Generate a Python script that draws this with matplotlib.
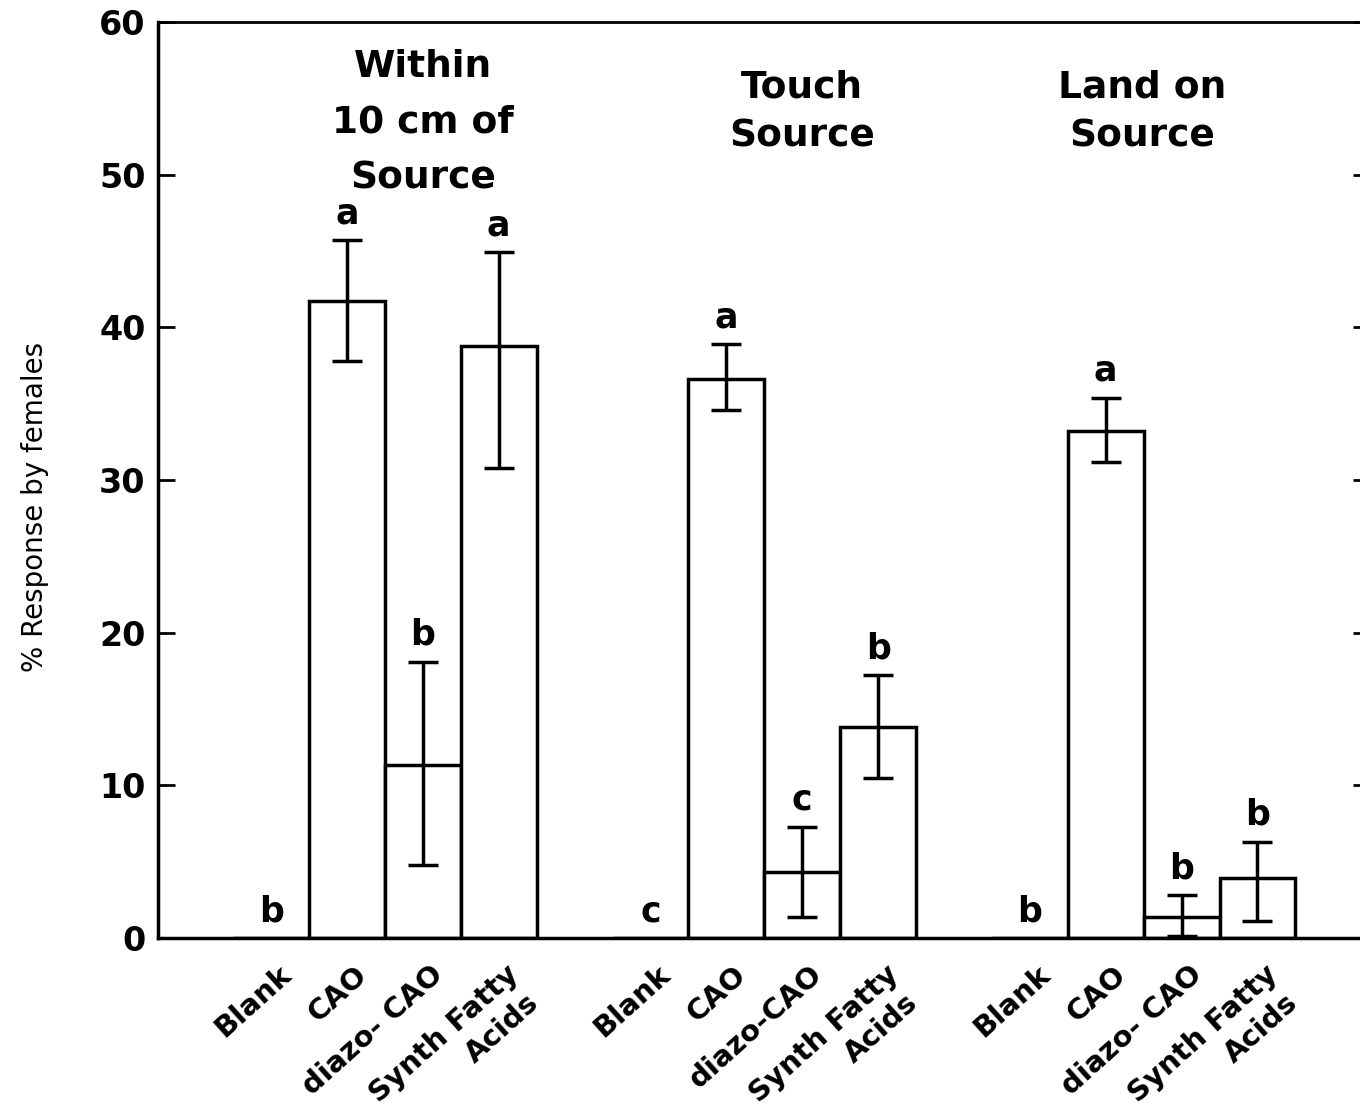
import matplotlib
matplotlib.use('Agg')
import matplotlib.pyplot as plt
import matplotlib.transforms as mtransforms
import numpy as np

# Data
groups = ['Within\n10 cm of\nSource', 'Touch\nSource', 'Land on\nSource']
treatments = ['Blank', 'CAO', 'diazo-CAO', 'Synth Fatty Acids']
# the last label of each group is written over two lines: "Synth Fatty" / "Acids"
tick_labels = ['Blank', 'CAO', 'diazo- CAO', 'Synth Fatty',
               'Blank', 'CAO', 'diazo-CAO', 'Synth Fatty',
               'Blank', 'CAO', 'diazo- CAO', 'Synth Fatty']
second_line = 'Acids'

within_mean = [0, 41.7, 11.3, 38.8]
within_upper = [0, 45.7, 18.1, 44.9]
within_lower = [0, 37.8, 4.8, 30.8]
within_letters = ['b', 'a', 'b', 'a']

touch_mean = [0, 36.6, 4.3, 13.8]
touch_upper = [0, 38.9, 7.3, 17.2]
touch_lower = [0, 34.6, 1.4, 10.5]
touch_letters = ['c', 'a', 'c', 'b']

land_mean = [0, 33.2, 1.4, 3.9]
land_upper = [0, 35.4, 2.8, 6.3]
land_lower = [0, 31.2, 0.1, 1.1]
land_letters = ['b', 'a', 'b', 'b']

yticks = [0, 10, 20, 30, 40, 50, 60]

means = np.array(within_mean + touch_mean + land_mean)
upper = np.array(within_upper + touch_upper + land_upper)
lower = np.array(within_lower + touch_lower + land_lower)
letters = within_letters + touch_letters + land_letters

# bar positions: 4 bars per group, one empty slot between groups
pos = np.array([g * 5 + i for g in range(len(groups)) for i in range(len(treatments))])

fig = plt.figure(figsize=(13.6, 11.1), dpi=100)
ax = fig.add_axes([0.1162, 0.155, 0.891, 0.8252])

LW = 2.5
ax.bar(pos, means, width=1.0, facecolor='white', edgecolor='black', linewidth=LW, zorder=2)

has_err = means > 0
ax.errorbar(pos[has_err], means[has_err],
            yerr=[means[has_err] - lower[has_err], upper[has_err] - means[has_err]],
            fmt='none', ecolor='black', elinewidth=LW, capsize=11, capthick=LW, zorder=3)

# significance letters
for x, m, u, s in zip(pos, means, upper, letters):
    y = u + 1.1 if m > 0 else 1.05
    ax.text(x, y, s, ha='center', va='baseline', fontsize=25, fontweight='bold')

# group titles
title_x = [2.0, 7.0, 11.48]
title_y = [53.4, 54.1, 54.1]
title_ls = [1.7, 1.45, 1.45]
for gx, gy, ls, t in zip(title_x, title_y, title_ls, groups):
    ax.text(gx, gy, t, ha='center', va='center', fontsize=27, fontweight='bold',
            linespacing=ls, multialignment='center')

ax.set_xlim(-1.49, 14.48)
ax.set_ylim(0, 60)
ax.set_yticks(yticks)
ax.set_yticklabels([str(v) for v in yticks], fontsize=24, fontweight='bold')
ax.tick_params(axis='y', direction='in', length=12, width=2, right=True, pad=9)

ax.set_xticks(pos)
ax.set_xticklabels(tick_labels, fontsize=21, fontweight='bold', rotation=42,
                   ha='right', va='top', rotation_mode='anchor')
ax.tick_params(axis='x', length=0, pad=16)
offset = mtransforms.ScaledTranslation(7 / 100, 0, fig.dpi_scale_trans)
for lab in ax.get_xticklabels():
    lab.set_transform(lab.get_transform() + offset)

# second line ("Acids") under each "Synth Fatty" label
acids_off = mtransforms.ScaledTranslation(27 / 100, -51 / 100, fig.dpi_scale_trans)
for x in pos[3::4]:
    ax.text(x, 0, second_line, transform=ax.get_xaxis_transform() + acids_off,
            fontsize=21, fontweight='bold', rotation=42, ha='right', va='top',
            rotation_mode='anchor')

for side in ['left', 'bottom', 'right']:
    ax.spines[side].set_linewidth(LW)
ax.spines['top'].set_linewidth(2)

fig.text(35 / 1360, 1 - 507 / 1110, '% Response by females', rotation=90,
         ha='center', va='center', fontsize=20)

fig.savefig('out.png', dpi=100)
